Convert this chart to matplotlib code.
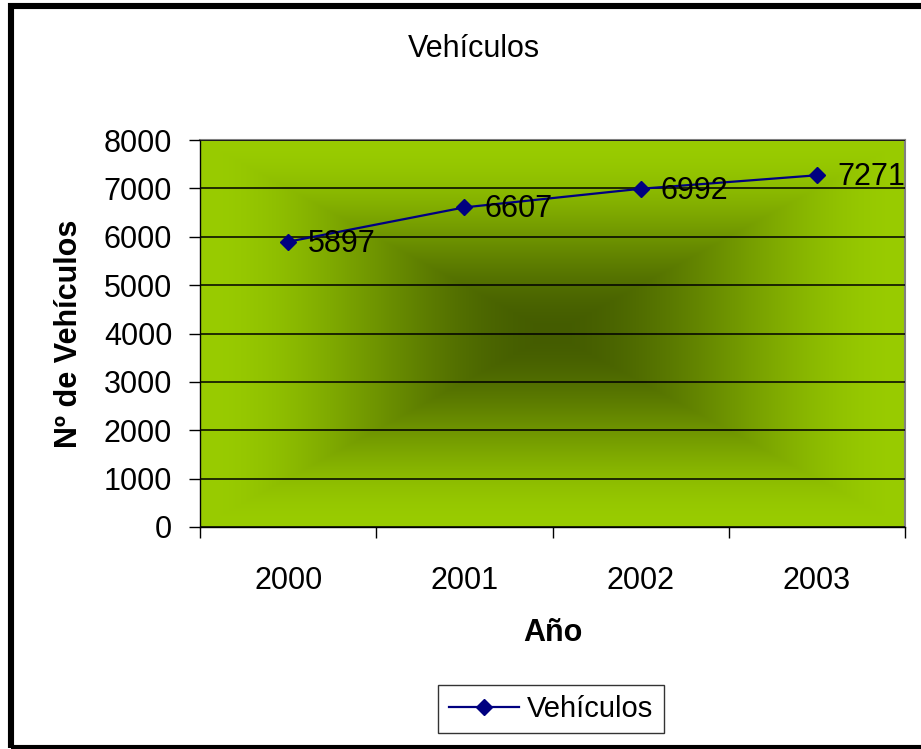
import numpy as np
import matplotlib
matplotlib.use("Agg")
import matplotlib.pyplot as plt
from matplotlib.patches import Rectangle
from matplotlib.ticker import FixedLocator, NullFormatter

plt.rcParams['font.family'] = ['Liberation Sans', 'DejaVu Sans']

years = ["2000", "2001", "2002", "2003"]
vehiculos = [5897, 6607, 6992, 7271]

W, H = 921, 749
fig = plt.figure(figsize=(W / 100, H / 100), dpi=100)
ax = fig.add_axes([200 / W, 1 - 527 / H, 705 / W, 387 / H])

# rectangular "from centre" fill: dark olive in the middle, bright green at the edges
nx, ny = 400, 300
u = np.linspace(-1, 1, nx)
v = np.linspace(-1, 1, ny)
U, V = np.meshgrid(u, v)
t = np.maximum(np.abs(U), np.abs(V))
t = t * t * (3 - 2 * t)
centre = np.array([0x44, 0x5c, 0x00]) / 255
edge = np.array([0x99, 0xcc, 0x00]) / 255
img = centre + (edge - centre) * t[..., None]
ax.imshow(img, extent=(-0.5, 3.5, 0, 8000), aspect="auto", zorder=0,
          interpolation="bilinear")

x = np.arange(len(years))
ax.set_xlim(-0.5, 3.5)
ax.set_ylim(0, 8000)
ax.set_yticks(np.arange(0, 8001, 1000))
ax.yaxis.grid(True, color="black", lw=1.1, zorder=1)
ax.set_axisbelow(False)

ax.plot(x, vehiculos, color="#000080", lw=1.6, marker="D", ms=8.5,
        mfc="#000080", mec="#000080", zorder=3, label="Vehículos")
for xi, yi in zip(x, vehiculos):
    ax.annotate(str(yi), (xi, yi), xytext=(20, -2), textcoords="offset pixels",
                ha="left", va="center", fontsize=22, zorder=4,
                annotation_clip=False)

ax.set_xticks(x)
ax.set_xticklabels(years)
ax.xaxis.set_minor_locator(FixedLocator(np.arange(-0.5, 3.6, 1)))
ax.xaxis.set_minor_formatter(NullFormatter())
ax.tick_params(axis="x", which="major", length=0, pad=28, labelsize=22)
ax.tick_params(axis="x", which="minor", length=8, width=1, color="black",
               direction="out")
ax.tick_params(axis="y", length=8, width=1, color="black", direction="out",
               pad=12, labelsize=22)

for side in ("top", "right"):
    ax.spines[side].set_color("#808080")
    ax.spines[side].set_linewidth(1.5)
for side in ("left", "bottom"):
    ax.spines[side].set_color("black")
    ax.spines[side].set_linewidth(1)

ax.set_xlabel("Año", fontsize=22, fontweight="bold", labelpad=16)
ax.set_ylabel("Nº de Vehículos", fontsize=22, fontweight="bold", labelpad=14)
fig.text(474 / W, 1 - 49 / H, "Vehículos", ha="center", va="center", fontsize=22)

leg = ax.legend(loc="center", bbox_to_anchor=(551 / W, 1 - 709 / H),
                bbox_transform=fig.transFigure, fontsize=21, frameon=True,
                fancybox=False, edgecolor="black", handlelength=2.4,
                borderpad=0.35, handletextpad=0.3)
leg.get_frame().set_linewidth(1)

# outer chart border (runs off the right edge)
fig.patches.append(Rectangle((11 / W, 1 / H), 1.0, 1 - 7 / H, transform=fig.transFigure,
                             fill=False, edgecolor="black", lw=4.4, clip_on=False))

fig.savefig("out.png", dpi=100)
